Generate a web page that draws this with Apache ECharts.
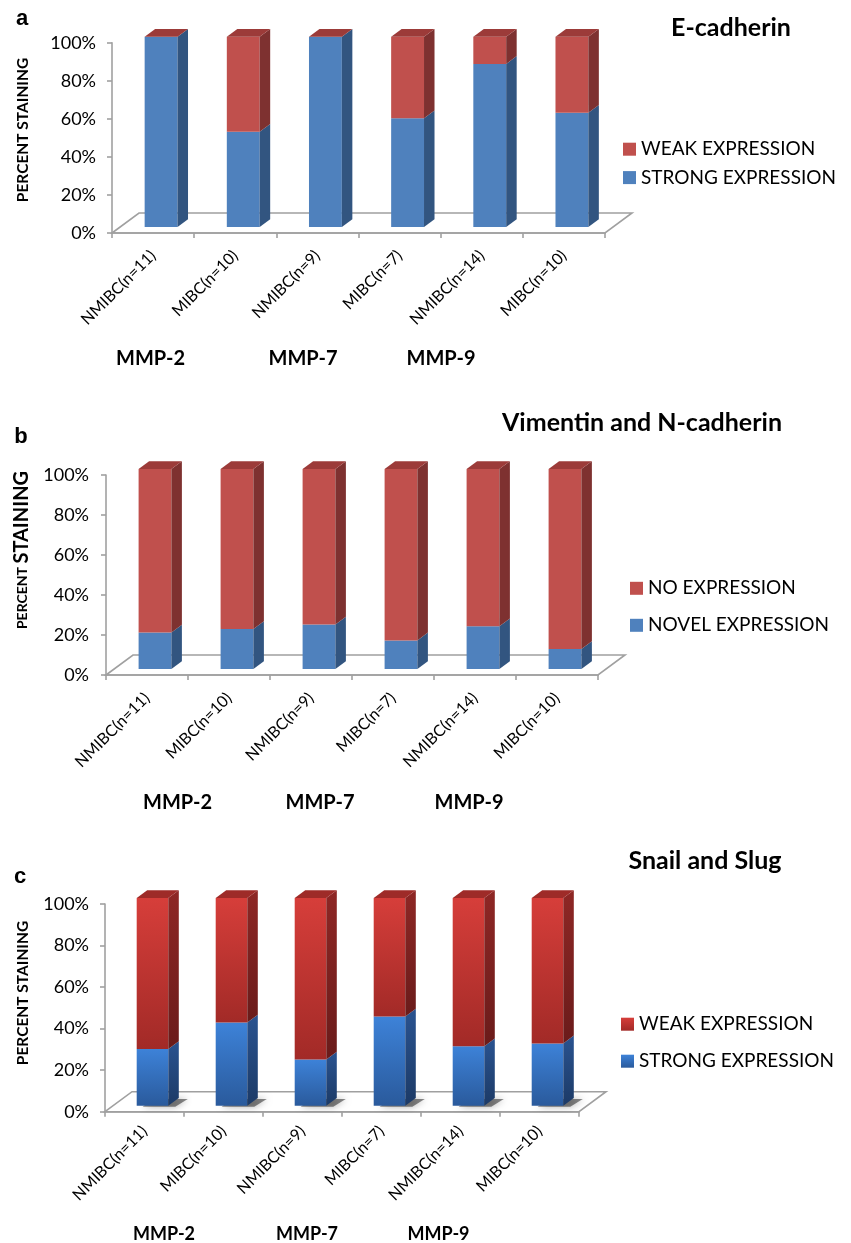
<!DOCTYPE html>
<html>
<head>
<meta charset="utf-8">
<script src="https://cdn.jsdelivr.net/npm/echarts@6/dist/echarts.min.js"></script>
<style>
html,body{margin:0;padding:0;background:#fff;}
#c{width:851px;height:1243px;}
</style>
</head>
<body>
<div id="c"></div>
<script>
// ---------- data ----------
const categories = ['NMIBC(n=11)', 'MIBC(n=10)', 'NMIBC(n=9)', 'MIBC(n=7)', 'NMIBC(n=14)', 'MIBC(n=10)'];
const groupLabels = ['MMP-2', 'MMP-7', 'MMP-9'];
const yTickValues = [0, 20, 40, 60, 80, 100];

// panel a : E-cadherin
const eCadStrong = [100, 50, 100, 57.1, 85.7, 60];
const eCadWeak   = [0, 50, 0, 42.9, 14.3, 40];
// panel b : Vimentin and N-cadherin
const vimNovel = [18.2, 20, 22.2, 14.3, 21.4, 10];
const vimNo    = [81.8, 80, 77.8, 85.7, 78.6, 90];
// panel c : Snail and Slug
const snailStrong = [27.3, 40, 22.2, 42.9, 28.6, 30];
const snailWeak   = [72.7, 60, 77.8, 57.1, 71.4, 70];

// ---------- styling / layout ----------
const FONT = 'Lato';
const AXIS_COLOR = '#a0a0a0';
const FX = 8, FY = -6;          // front face offset from axis position
const DX = 10.5, DY = -7.8;     // bar depth
const FDX = 27, FDY = -20;      // floor depth
const LG = echarts.graphic.LinearGradient;

const flatBlue = {front: '#4f81bd', side: '#325580', top: '#3f6aa0'};
const flatRed  = {front: '#c0504d', side: '#7e3130', top: '#9c3b39'};
const gradBlue = {
  front: new LG(0, 0, 0, 1, [{offset: 0, color: '#3d82d8'}, {offset: 1, color: '#2a5a9c'}]),
  side:  new LG(0, 0, 0, 1, [{offset: 0, color: '#2a5390'}, {offset: 1, color: '#1c3a66'}]),
  top: '#2f5fa0'
};
const gradRed = {
  front: new LG(0, 0, 0, 1, [{offset: 0, color: '#d63e3a'}, {offset: 1, color: '#a22a27'}]),
  side:  new LG(0, 0, 0, 1, [{offset: 0, color: '#8e2725'}, {offset: 1, color: '#6a1b1a'}]),
  top: '#9e2b28'
};

const panels = [
  {l: 112, r: 605, t: 42.7, b: 233, labelMargin: 20, yMargin: 16,
   bottomName: 'STRONG EXPRESSION', topName: 'WEAK EXPRESSION',
   bottomVals: eCadStrong, topVals: eCadWeak, bs: flatBlue, ts: flatRed, shadow: false,
   legend: {left: 623, top: 139.7, gap: 9.4}},
  {l: 106, r: 598, t: 475, b: 675, labelMargin: 20.5, yMargin: 17,
   bottomName: 'NOVEL EXPRESSION', topName: 'NO EXPRESSION',
   bottomVals: vimNovel, topVals: vimNo, bs: flatBlue, ts: flatRed, shadow: false,
   legend: {left: 630, top: 578.8, gap: 18}},
  {l: 105, r: 579, t: 904, b: 1111.7, labelMargin: 17, yMargin: 16,
   bottomName: 'STRONG EXPRESSION', topName: 'WEAK EXPRESSION',
   bottomVals: snailStrong, topVals: snailWeak, bs: gradBlue, ts: gradRed, shadow: true,
   legend: {left: 621, top: 1014.7, gap: 18}}
];

function barRender(st, drawTop, shadow) {
  return function (params, api) {
    const i = api.value(0), lo = api.value(1), hi = api.value(2);
    const pLo = api.coord([i, lo]), pHi = api.coord([i, hi]);
    const w = api.size([1, 0])[0] * 0.4;
    const cx = pLo[0] + FX;
    const xl = cx - w / 2, xr = cx + w / 2;
    const yb = pLo[1] + FY, yt = pHi[1] + FY;
    const ch = [];
    if (shadow) {
      ch.push({type: 'polygon',
        shape: {points: [[xl + 6, yb + 1], [xr + 7, yb + 1], [xr + DX + 9, yb + DY + 1], [xl + DX + 6, yb + DY + 1]]},
        style: {fill: 'rgba(0,0,0,0.45)', shadowBlur: 7, shadowColor: 'rgba(0,0,0,0.7)'}});
    }
    ch.push({type: 'rect', shape: {x: xl, y: yt, width: w, height: Math.max(0, yb - yt)}, style: {fill: st.front}});
    ch.push({type: 'polygon', shape: {points: [[xr, yt], [xr + DX, yt + DY], [xr + DX, yb + DY], [xr, yb]]}, style: {fill: st.side}});
    if (drawTop) {
      ch.push({type: 'polygon', shape: {points: [[xl, yt], [xl + DX, yt + DY], [xr + DX, yt + DY], [xr, yt]]}, style: {fill: st.top}});
    }
    return {type: 'group', children: ch};
  };
}

function floorRender(params, api) {
  const bw = api.size([1, 0])[0];
  const p0 = api.coord([0, 0]);
  const p5 = api.coord([categories.length - 1, 0]);
  const L = p0[0] - bw / 2, R = p5[0] + bw / 2, y = p0[1];
  return {type: 'polygon', shape: {points: [[L, y], [L + FDX, y + FDY], [R + FDX, y + FDY], [R, y]]},
    style: {fill: 'none', stroke: AXIS_COLOR, lineWidth: 1.6}};
}

const grid = [], xAxis = [], yAxis = [], series = [], legend = [];
panels.forEach((p, k) => {
  grid.push({left: p.l, top: p.t, width: p.r - p.l, height: p.b - p.t});
  xAxis.push({type: 'category', gridIndex: k, data: categories, boundaryGap: true,
    axisLine: {show: true, lineStyle: {color: AXIS_COLOR, width: 1.6}},
    axisTick: {show: true, length: 5, interval: 0, lineStyle: {color: AXIS_COLOR, width: 1.6}},
    axisLabel: {show: true, interval: 0, rotate: 45, margin: p.labelMargin, fontFamily: FONT, fontSize: 16, color: '#000'},
    splitLine: {show: false}});
  yAxis.push({type: 'value', gridIndex: k, min: yTickValues[0], max: yTickValues[yTickValues.length - 1], interval: 20,
    axisLine: {show: true, lineStyle: {color: AXIS_COLOR, width: 1.6}},
    axisTick: {show: true, length: 5, lineStyle: {color: AXIS_COLOR, width: 1.6}},
    splitLine: {show: false},
    axisLabel: {formatter: '{value}%', margin: p.yMargin, fontFamily: FONT, fontSize: 18, color: '#000'}});

  series.push({type: 'custom', name: 'floor' + k, xAxisIndex: k, yAxisIndex: k, z: 1, silent: true,
    renderItem: floorRender, data: [[0, 0, 0]], encode: {x: 0, y: [1, 2]}});
  series.push({type: 'custom', name: p.bottomName, xAxisIndex: k, yAxisIndex: k, z: 2,
    renderItem: barRender(p.bs, false, p.shadow),
    itemStyle: {color: '#4f81bd'},
    data: p.bottomVals.map((v, i) => [i, 0, v]), encode: {x: 0, y: [1, 2]}});
  series.push({type: 'custom', name: p.topName, xAxisIndex: k, yAxisIndex: k, z: 3,
    renderItem: barRender(p.ts, true, false),
    itemStyle: {color: '#c0504d'},
    data: p.topVals.map((v, i) => [i, p.bottomVals[i], p.bottomVals[i] + v]), encode: {x: 0, y: [1, 2]}});

  const iconTop = p.shadow ? new LG(0, 0, 0, 1, [{offset: 0, color: '#d63e3a'}, {offset: 1, color: '#a22a27'}]) : '#c0504d';
  const iconBot = p.shadow ? new LG(0, 0, 0, 1, [{offset: 0, color: '#3d82d8'}, {offset: 1, color: '#2a5a9c'}]) : '#4f81bd';
  legend.push({orient: 'vertical', left: p.legend.left, top: p.legend.top, padding: 0,
    itemWidth: 13, itemHeight: 13, itemGap: p.legend.gap, icon: 'rect', selectedMode: false,
    textStyle: {fontFamily: FONT, fontSize: 19, color: '#000'},
    data: [{name: p.topName, itemStyle: {color: iconTop}}, {name: p.bottomName, itemStyle: {color: iconBot}}]});
});

function txt(x, y, text, font, rot) {
  return {type: 'text', x: x, y: y, rotation: rot || 0,
    style: {text: text, font: font, fill: '#000', align: 'center', verticalAlign: 'middle',
            textAlign: 'center', textVerticalAlign: 'middle'}};
}

const BOLD = 'bold 15.5px ' + FONT;
const graphic = [
  txt(22, 19, 'a', 'bold 22px "Liberation Sans"'),
  txt(21, 437, 'b', 'bold 22px "Liberation Sans"'),
  txt(20, 877, 'c', 'bold 22px "Liberation Sans"'),
  txt(731, 28, 'E-cadherin', 'bold 25px ' + FONT),
  txt(642, 423, 'Vimentin and N-cadherin', 'bold 25px ' + FONT),
  txt(705, 861, 'Snail and Slug', 'bold 25px ' + FONT),
  txt(23, 130, 'PERCENT STAINING', BOLD, Math.PI / 2),
  {type: 'text', x: 22, y: 550, rotation: Math.PI / 2,
   style: {text: '{s|PERCENT }{b|STAINING}', fill: '#000', align: 'center', verticalAlign: 'middle',
           textAlign: 'center', textVerticalAlign: 'middle',
           rich: {s: {fontFamily: FONT, fontWeight: 'bold', fontSize: 14, fill: '#000'},
                  b: {fontFamily: FONT, fontWeight: 'bold', fontSize: 20, fill: '#000'}}}},
  txt(23, 993, 'PERCENT STAINING', BOLD, Math.PI / 2),
  txt(150.5, 359, groupLabels[0], 'bold 20px ' + FONT),
  txt(303, 359, groupLabels[1], 'bold 20px ' + FONT),
  txt(441, 359, groupLabels[2], 'bold 20px ' + FONT),
  txt(177.5, 803, groupLabels[0], 'bold 20px ' + FONT),
  txt(320, 803, groupLabels[1], 'bold 20px ' + FONT),
  txt(469, 803, groupLabels[2], 'bold 20px ' + FONT),
  txt(164, 1234, groupLabels[0], 'bold 18px ' + FONT),
  txt(307, 1234, groupLabels[1], 'bold 18px ' + FONT),
  txt(438.5, 1234, groupLabels[2], 'bold 18px ' + FONT)
];

const chart = echarts.init(document.getElementById('c'), null, {renderer: 'canvas'});
chart.setOption({
  animation: false,
  backgroundColor: '#fff',
  grid: grid, xAxis: xAxis, yAxis: yAxis, series: series, legend: legend, graphic: graphic
});
</script>
</body>
</html>
